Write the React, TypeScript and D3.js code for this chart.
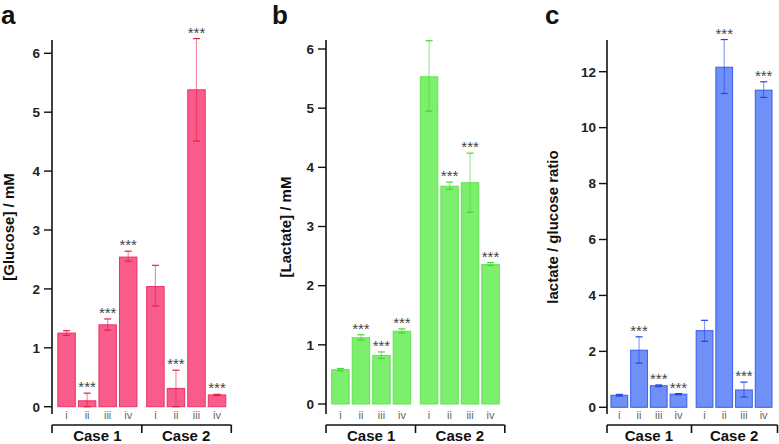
import React from "react";
import * as d3 from "d3";

const cases = ["Case 1", "Case 2"];
const samples = ["i", "ii", "iii", "iv"];
const significant = [false, true, true, true, false, true, true, true];

const glucoseMean = [1.25, 0.1, 1.39, 2.54, 2.04, 0.31, 5.38, 0.2];
const glucoseLow = [1.21, 0.0, 1.3, 2.47, 1.71, 0.0, 4.51, 0.19];
const glucoseHigh = [1.29, 0.23, 1.49, 2.64, 2.4, 0.62, 6.25, 0.21];
const glucoseTicks = [0, 1, 2, 3, 4, 5, 6];

const lactateMean = [0.58, 1.12, 0.82, 1.23, 5.53, 3.68, 3.74, 2.36];
const lactateLow = [0.56, 1.08, 0.77, 1.2, 4.95, 3.63, 3.24, 2.34];
const lactateHigh = [0.6, 1.17, 0.88, 1.27, 6.14, 3.75, 4.24, 2.39];
const lactateTicks = [0, 1, 2, 3, 4, 5, 6];

const ratioMean = [0.43, 2.04, 0.77, 0.47, 2.74, 12.16, 0.62, 11.34];
const ratioLow = [0.4, 1.58, 0.74, 0.45, 2.36, 11.22, 0.37, 11.08];
const ratioHigh = [0.46, 2.52, 0.8, 0.49, 3.11, 13.15, 0.9, 11.64];
const ratioTicks = [0, 2, 4, 6, 8, 10, 12];

const FONT = "'Liberation Sans', Arial, Helvetica, sans-serif";

type PanelProps = {
  letter: string;
  letterX: number;
  yLabel: string;
  yLabelX: number;
  axisX: number;
  groupRange: [number, number];
  yDomainMax: number;
  yRange: [number, number];
  ticks: number[];
  mean: number[];
  low: number[];
  high: number[];
  fill: string;
  stroke: string;
  err: string;
  tickLabelGap: number;
};

function Panel(p: PanelProps) {
  const y = d3.scaleLinear().domain([0, p.yDomainMax]).range(p.yRange);
  const outer = d3.scaleBand<string>().domain(cases).range(p.groupRange).paddingInner(0.075);
  const inner = d3.scaleBand<string>().domain(samples).range([0, outer.bandwidth()]).paddingInner(0.15).paddingOuter(0.075);
  const axisTop = 40;
  const axisBottom = 414;
  const baseY = 425;
  const g1End = (outer("Case 1") as number) + outer.bandwidth();
  const g2Start = outer("Case 2") as number;
  const mid = (g1End + g2Start) / 2;
  const rightEnd = g2Start + outer.bandwidth() + 4;
  const bars = cases.flatMap((c, ci) =>
    samples.map((s, si) => {
      const i = ci * 4 + si;
      const x0 = (outer(c) as number) + (inner(s) as number);
      return { i, c, s, x0, w: inner.bandwidth() };
    })
  );
  const yLabelCenter = (axisTop + axisBottom) / 2;
  return (
    <g>
      <text x={p.letterX} y={24} fontFamily={FONT} fontWeight="bold" fontSize={26} fill="#111">
        {p.letter}
      </text>
      <text
        transform={`translate(${p.yLabelX},${yLabelCenter}) rotate(-90)`}
        textAnchor="middle"
        fontFamily={FONT}
        fontWeight="bold"
        fontSize={15}
        fill="#111"
      >
        {p.yLabel}
      </text>
      {/* y axis */}
      <line x1={p.axisX} x2={p.axisX} y1={axisTop} y2={axisBottom} stroke="#111" strokeWidth={1.6} />
      {p.ticks.map((t) => (
        <g key={t}>
          <line x1={p.axisX - 8} x2={p.axisX} y1={y(t)} y2={y(t)} stroke="#111" strokeWidth={1.4} />
          <text
            x={p.axisX - p.tickLabelGap}
            y={y(t) + 4.8}
            textAnchor="end"
            fontFamily={FONT}
            fontWeight="bold"
            fontSize={13.5}
            fill="#222"
          >
            {t}
          </text>
        </g>
      ))}
      {/* bars */}
      {bars.map((b) => {
        const v = p.mean[b.i];
        const cx = b.x0 + b.w / 2;
        const yt = y(v);
        const yh = y(p.high[b.i]);
        const yl = y(p.low[b.i]);
        return (
          <g key={b.i}>
            <rect x={b.x0} y={yt} width={b.w} height={y(0) - yt} fill={p.fill} stroke={p.stroke} strokeWidth={1} />
            <line x1={cx} x2={cx} y1={yh} y2={yl} stroke={p.err} strokeOpacity={0.5} strokeWidth={1.2} />
            <line x1={cx - 3.5} x2={cx + 3.5} y1={yh} y2={yh} stroke={p.err} strokeWidth={1.2} />
            <line x1={cx - 3.5} x2={cx + 3.5} y1={yl} y2={yl} stroke={p.err} strokeWidth={1.2} />
            {significant[b.i] && (
              <text x={cx} y={yh - 1} textAnchor="middle" fontFamily={FONT} fontSize={15} fill="#444">
                ***
              </text>
            )}
            <text x={cx} y={419} textAnchor="middle" fontFamily={FONT} fontSize={11} fill="#666">
              {b.s}
            </text>
          </g>
        );
      })}
      {/* bottom category axis */}
      <line x1={p.axisX} x2={rightEnd} y1={baseY} y2={baseY} stroke="#111" strokeWidth={1.6} />
      {[p.axisX, mid, rightEnd].map((x, k) => (
        <line key={k} x1={x} x2={x} y1={baseY} y2={baseY + 8} stroke="#111" strokeWidth={1.6} />
      ))}
      {cases.map((c) => (
        <text
          key={c}
          x={(outer(c) as number) + outer.bandwidth() / 2}
          y={441}
          textAnchor="middle"
          fontFamily={FONT}
          fontWeight="bold"
          fontSize={15}
          fill="#111"
        >
          {c}
        </text>
      ))}
    </g>
  );
}

export default function App() {
  return (
    <div style={{ position: "fixed", left: 0, top: 0 }}>
      <svg width={779} height={444} style={{ display: "block", background: "#fff" }}>
        <Panel
          letter="a"
          letterX={1}
          yLabel="[Glucose] / mM"
          yLabelX={14}
          axisX={52}
          groupRange={[56.3, 227.3]}
          yDomainMax={6}
          yRange={[406.7, 53.3]}
          ticks={glucoseTicks}
          mean={glucoseMean}
          low={glucoseLow}
          high={glucoseHigh}
          fill="#f95b8b"
          stroke="#e8336a"
          err="#e81c48"
          tickLabelGap={12}
        />
        <Panel
          letter="b"
          letterX={272}
          yLabel="[Lactate] / mM"
          yLabelX={291}
          axisX={326}
          groupRange={[330.2, 500.8]}
          yDomainMax={6}
          yRange={[404, 49]}
          ticks={lactateTicks}
          mean={lactateMean}
          low={lactateLow}
          high={lactateHigh}
          fill="#7cf06c"
          stroke="#62e252"
          err="#3fd830"
          tickLabelGap={12}
        />
        <Panel
          letter="c"
          letterX={545}
          yLabel="lactate / glucose ratio"
          yLabelX={558}
          axisX={607}
          groupRange={[609.5, 773.5]}
          yDomainMax={12}
          yRange={[407.3, 71.7]}
          ticks={ratioTicks}
          mean={ratioMean}
          low={ratioLow}
          high={ratioHigh}
          fill="#6f90f7"
          stroke="#3a5ce6"
          err="#2244dd"
          tickLabelGap={11}
        />
      </svg>
    </div>
  );
}
